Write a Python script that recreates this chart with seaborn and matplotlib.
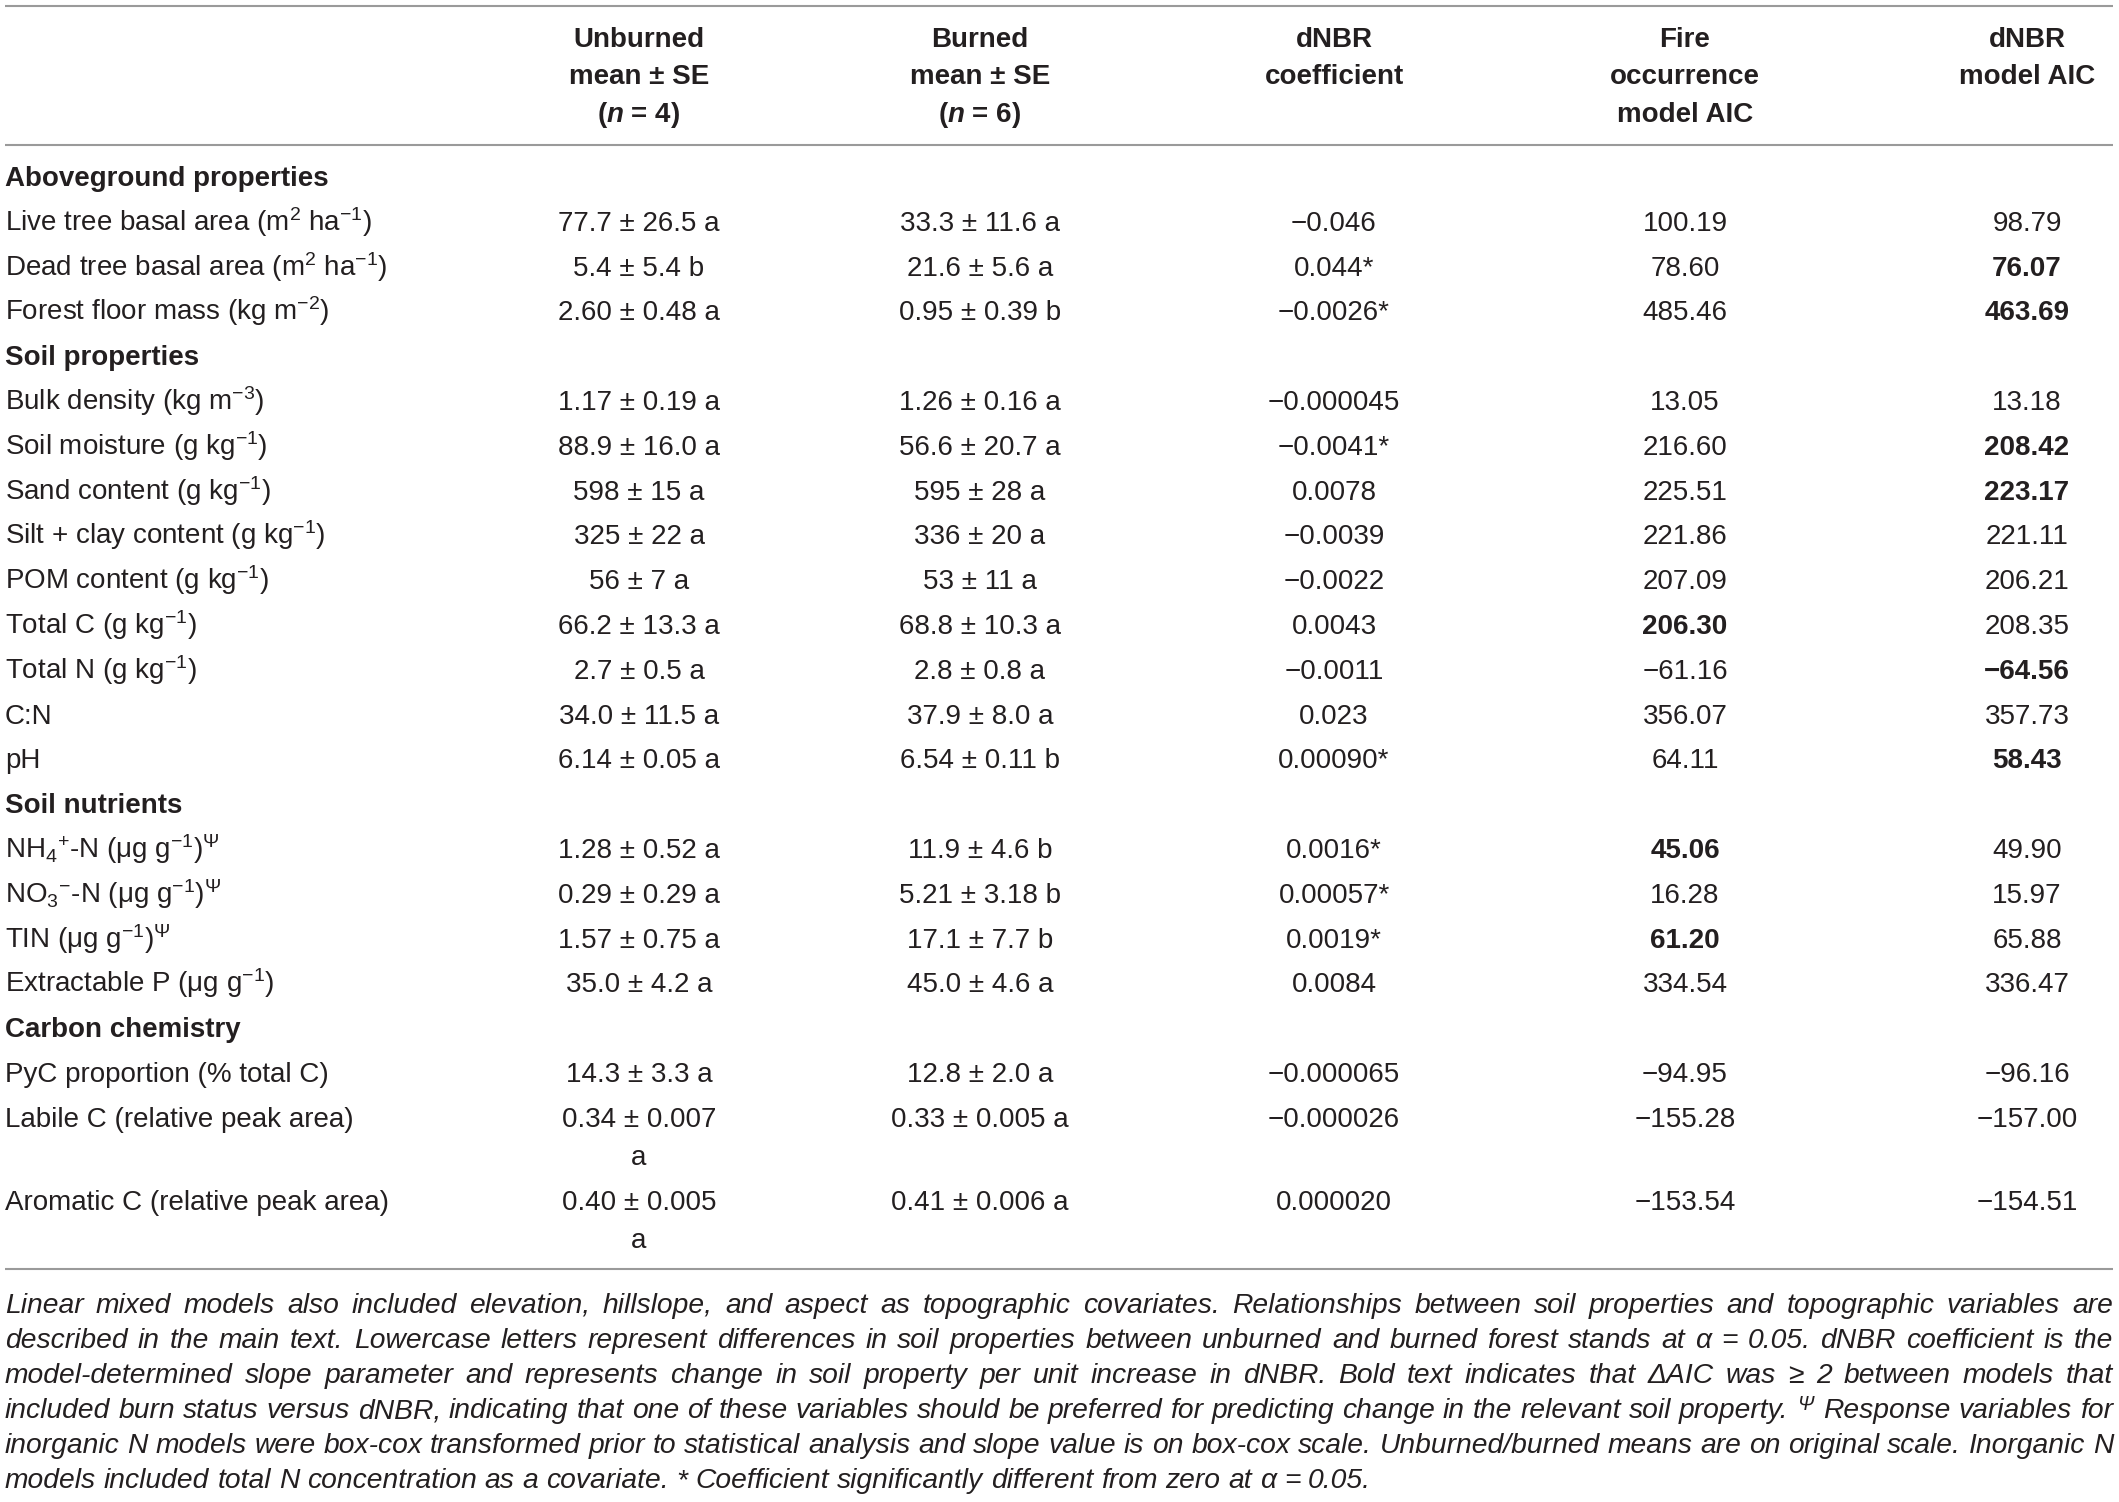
import matplotlib
matplotlib.use("Agg")
import matplotlib.pyplot as plt
from matplotlib import font_manager
import seaborn as sns

# ---------------- table contents ----------------
section_names = ["Aboveground properties", "Soil properties", "Soil nutrients", "Carbon chemistry"]
section_sizes = [3, 9, 4, 3]

row_labels = [
    r"Live tree basal area (m$^{2}$ ha$^{-1}$)",
    r"Dead tree basal area (m$^{2}$ ha$^{-1}$)",
    r"Forest floor mass (kg m$^{-2}$)",
    r"Bulk density (kg m$^{-3}$)",
    r"Soil moisture (g kg$^{-1}$)",
    r"Sand content (g kg$^{-1}$)",
    r"Silt + clay content (g kg$^{-1}$)",
    r"POM content (g kg$^{-1}$)",
    r"Total C (g kg$^{-1}$)",
    r"Total N (g kg$^{-1}$)",
    "C:N",
    "pH",
    r"NH$_{4}$$^{+}$-N (μg g$^{-1}$)$^{\Psi}$",
    r"NO$_{3}$$^{-}$-N (μg g$^{-1}$)$^{\Psi}$",
    r"TIN (μg g$^{-1}$)$^{\Psi}$",
    r"Extractable P (μg g$^{-1}$)",
    "PyC proportion (% total C)",
    "Labile C (relative peak area)",
    "Aromatic C (relative peak area)",
]

unburned = ["77.7 ± 26.5 a", "5.4 ± 5.4 b", "2.60 ± 0.48 a", "1.17 ± 0.19 a", "88.9 ± 16.0 a",
            "598 ± 15 a", "325 ± 22 a", "56 ± 7 a", "66.2 ± 13.3 a", "2.7 ± 0.5 a",
            "34.0 ± 11.5 a", "6.14 ± 0.05 a", "1.28 ± 0.52 a", "0.29 ± 0.29 a", "1.57 ± 0.75 a",
            "35.0 ± 4.2 a", "14.3 ± 3.3 a", "0.34 ± 0.007\na", "0.40 ± 0.005\na"]

burned = ["33.3 ± 11.6 a", "21.6 ± 5.6 a", "0.95 ± 0.39 b", "1.26 ± 0.16 a", "56.6 ± 20.7 a",
          "595 ± 28 a", "336 ± 20 a", "53 ± 11 a", "68.8 ± 10.3 a", "2.8 ± 0.8 a",
          "37.9 ± 8.0 a", "6.54 ± 0.11 b", "11.9 ± 4.6 b", "5.21 ± 3.18 b", "17.1 ± 7.7 b",
          "45.0 ± 4.6 a", "12.8 ± 2.0 a", "0.33 ± 0.005 a", "0.41 ± 0.006 a"]

dnbr_coef = ["−0.046", "0.044*", "−0.0026*", "−0.000045", "−0.0041*", "0.0078", "−0.0039",
             "−0.0022", "0.0043", "−0.0011", "0.023", "0.00090*", "0.0016*", "0.00057*",
             "0.0019*", "0.0084", "−0.000065", "−0.000026", "0.000020"]

fire_aic = [100.19, 78.60, 485.46, 13.05, 216.60, 225.51, 221.86, 207.09, 206.30, -61.16,
            356.07, 64.11, 45.06, 16.28, 61.20, 334.54, -94.95, -155.28, -153.54]
dnbr_aic = [98.79, 76.07, 463.69, 13.18, 208.42, 223.17, 221.11, 206.21, 208.35, -64.56,
            357.73, 58.43, 49.90, 15.97, 65.88, 336.47, -96.16, -157.00, -154.51]

# bold = delta AIC >= 2 in favour of that model
fire_bold = [0, 0, 0, 0, 0, 0, 0, 0, 1, 0, 0, 0, 1, 0, 1, 0, 0, 0, 0]
dnbr_bold = [0, 1, 1, 0, 1, 1, 0, 0, 0, 1, 0, 1, 0, 0, 0, 0, 0, 0, 0]

header_lines = [
    ["Unburned", "mean ± SE", r"($\mathbfit{n}$ = 4)"],
    ["Burned", "mean ± SE", r"($\mathbfit{n}$ = 6)"],
    ["dNBR", "coefficient"],
    ["Fire", "occurrence", "model AIC"],
    ["dNBR", "model AIC"],
]

note_lines = [
    "Linear mixed models also included elevation, hillslope, and aspect as topographic covariates. Relationships between soil properties and topographic variables are",
    "described in the main text. Lowercase letters represent differences in soil properties between unburned and burned forest stands at α = 0.05. dNBR coefficient is the",
    "model-determined slope parameter and represents change in soil property per unit increase in dNBR. Bold text indicates that ΔAIC was ≥ 2 between models that",
    r"included burn status versus dNBR, indicating that one of these variables should be preferred for predicting change in the relevant soil property. $^{\Psi}$ Response variables for",
    "inorganic N models were box-cox transformed prior to statistical analysis and slope value is on box-cox scale. Unburned/burned means are on original scale. Inorganic N",
    "models included total N concentration as a covariate. * Coefficient significantly different from zero at α = 0.05.",
]

# ---------------- style ----------------
sns.set_theme(style="white")
names = {f.name for f in font_manager.fontManager.ttflist}
base = "Liberation Sans Narrow" if "Liberation Sans Narrow" in names else "Liberation Sans"
plt.rcParams["font.family"] = [base, "DejaVu Sans"]
plt.rcParams["mathtext.fontset"] = "custom"
plt.rcParams["mathtext.rm"] = base
plt.rcParams["mathtext.it"] = base + ":italic"
plt.rcParams["mathtext.bf"] = base + ":bold"
plt.rcParams["mathtext.bfit"] = base + ":italic:bold"
plt.rcParams["mathtext.default"] = "regular"

ink = "#231f20"
rule = "#9a9a9a"
fs = 20
fs_note = 20.3

W, H = 2119, 1502
fig = plt.figure(figsize=(W / 100, H / 100), dpi=100)
ax = fig.add_axes([0, 0, 1, 1])
ax.set_xlim(0, W)
ax.set_ylim(H, 0)
ax.axis("off")

col_x = [639, 980, 1334, 1685, 2027]
left = 5
right = 2113

# rules
ax.hlines([6, 145, 1269], left, right, color=rule, lw=1.5)

# header
head_base = [47, 84.5, 122]
for cx, lines in zip(col_x, header_lines):
    for j, s in enumerate(lines):
        ax.text(cx, head_base[j], s, ha="center", va="baseline", fontsize=fs,
                fontweight="bold", color=ink)

# body
y = 186
pitch = 44.8
wrap = 38
i = 0
for sec, n in zip(section_names, section_sizes):
    ax.text(left, y, sec, ha="left", va="baseline", fontsize=fs, fontweight="bold", color=ink)
    y += pitch
    for _ in range(n):
        ax.text(left, y, row_labels[i], ha="left", va="baseline", fontsize=fs, color=ink)
        parts = unburned[i].split("\n")
        for j, p in enumerate(parts):
            ax.text(col_x[0], y + j * wrap, p, ha="center", va="baseline", fontsize=fs, color=ink)
        ax.text(col_x[1], y, burned[i], ha="center", va="baseline", fontsize=fs, color=ink)
        ax.text(col_x[2], y, dnbr_coef[i], ha="center", va="baseline", fontsize=fs, color=ink)
        ax.text(col_x[3], y, f"{fire_aic[i]:.2f}".replace("-", "−"), ha="center",
                va="baseline", fontsize=fs, color=ink,
                fontweight="bold" if fire_bold[i] else "normal")
        ax.text(col_x[4], y, f"{dnbr_aic[i]:.2f}".replace("-", "−"), ha="center",
                va="baseline", fontsize=fs, color=ink,
                fontweight="bold" if dnbr_bold[i] else "normal")
        y += pitch + wrap * (len(parts) - 1)
        i += 1

# footnote, justified word by word
fig.canvas.draw()
renderer = fig.canvas.get_renderer()
probe = ax.text(0, 0, "a a", fontsize=fs_note, style="italic")
probe2 = ax.text(0, 0, "aa", fontsize=fs_note, style="italic")
space = probe.get_window_extent(renderer).width - probe2.get_window_extent(renderer).width
probe.remove()
probe2.remove()

note_base = 1313
note_pitch = 35
for k, line in enumerate(note_lines):
    words = line.split(" ")
    texts = [ax.text(0, note_base + k * note_pitch, w, ha="left", va="baseline",
                     fontsize=fs_note, style="italic", color=ink) for w in words]
    widths = [t.get_window_extent(renderer).width for t in texts]
    if k < len(note_lines) - 1:
        gap = (right - left - sum(widths)) / (len(words) - 1)
    else:
        gap = space
    x = left
    for t, w in zip(texts, widths):
        t.set_x(x)
        x += w + gap

fig.savefig("out.png", dpi=100)
